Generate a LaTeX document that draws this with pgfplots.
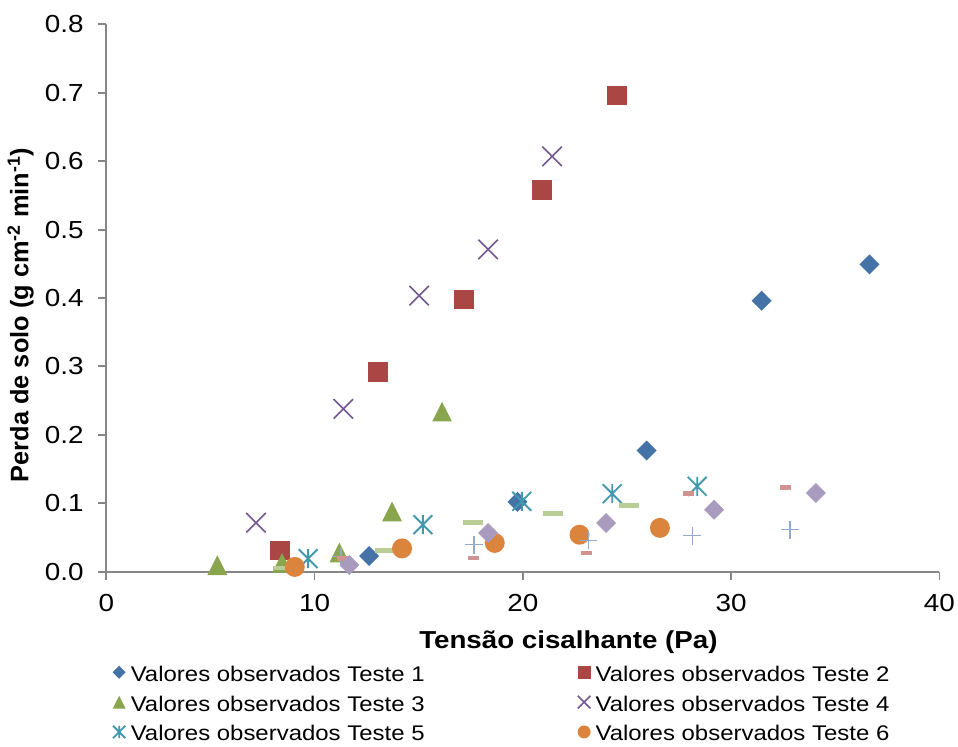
\documentclass[border=0pt]{standalone}
\usepackage{fontspec}
\setmainfont{Liberation Sans}[FakeStretch=1.13]
\newfontfamily\plainfont{Liberation Sans}
\usepackage{pgfplots}
\pgfplotsset{compat=1.18}
\usetikzlibrary{plotmarks}

\definecolor{c1}{HTML}{4572A7}
\definecolor{c2}{HTML}{AA4643}
\definecolor{c3}{HTML}{89A54E}
\definecolor{c4}{HTML}{71588F}
\definecolor{c5}{HTML}{4198AF}
\definecolor{c6}{HTML}{DB843D}
\definecolor{c7}{HTML}{93A9CF}
\definecolor{c8}{HTML}{D19392}
\definecolor{c9}{HTML}{B9CD96}
\definecolor{c10}{HTML}{A99BBD}
\definecolor{axgray}{HTML}{868686}

\pgfdeclareplotmark{xdiamond}{%
  \pgfpathmoveto{\pgfqpoint{0pt}{\pgfplotmarksize}}%
  \pgfpathlineto{\pgfqpoint{\pgfplotmarksize}{0pt}}%
  \pgfpathlineto{\pgfqpoint{0pt}{-\pgfplotmarksize}}%
  \pgfpathlineto{\pgfqpoint{-\pgfplotmarksize}{0pt}}%
  \pgfpathclose\pgfusepathqfill}
\pgfdeclareplotmark{xsquare}{%
  \pgfpathrectangle{\pgfqpoint{-\pgfplotmarksize}{-\pgfplotmarksize}}{\pgfqpoint{2\pgfplotmarksize}{2\pgfplotmarksize}}%
  \pgfusepathqfill}
\pgfdeclareplotmark{xtri}{%
  \pgfpathmoveto{\pgfqpoint{0pt}{\pgfplotmarksize}}%
  \pgfpathlineto{\pgfqpoint{\pgfplotmarksize}{-\pgfplotmarksize}}%
  \pgfpathlineto{\pgfqpoint{-\pgfplotmarksize}{-\pgfplotmarksize}}%
  \pgfpathclose\pgfusepathqfill}
\pgfdeclareplotmark{xcross}{%
  \pgfpathmoveto{\pgfqpoint{-\pgfplotmarksize}{-\pgfplotmarksize}}%
  \pgfpathlineto{\pgfqpoint{\pgfplotmarksize}{\pgfplotmarksize}}%
  \pgfpathmoveto{\pgfqpoint{-\pgfplotmarksize}{\pgfplotmarksize}}%
  \pgfpathlineto{\pgfqpoint{\pgfplotmarksize}{-\pgfplotmarksize}}%
  \pgfusepathqstroke}
\pgfdeclareplotmark{xstar}{%
  \pgfpathmoveto{\pgfqpoint{-\pgfplotmarksize}{-\pgfplotmarksize}}%
  \pgfpathlineto{\pgfqpoint{\pgfplotmarksize}{\pgfplotmarksize}}%
  \pgfpathmoveto{\pgfqpoint{-\pgfplotmarksize}{\pgfplotmarksize}}%
  \pgfpathlineto{\pgfqpoint{\pgfplotmarksize}{-\pgfplotmarksize}}%
  \pgfpathmoveto{\pgfqpoint{0pt}{-\pgfplotmarksize}}%
  \pgfpathlineto{\pgfqpoint{0pt}{\pgfplotmarksize}}%
  \pgfusepathqstroke}
\pgfdeclareplotmark{xplus}{%
  \pgfpathmoveto{\pgfqpoint{-\pgfplotmarksize}{0pt}}%
  \pgfpathlineto{\pgfqpoint{\pgfplotmarksize}{0pt}}%
  \pgfpathmoveto{\pgfqpoint{0pt}{-\pgfplotmarksize}}%
  \pgfpathlineto{\pgfqpoint{0pt}{\pgfplotmarksize}}%
  \pgfusepathqstroke}
\pgfdeclareplotmark{xcirc}{%
  \pgfpathcircle{\pgfpointorigin}{\pgfplotmarksize}%
  \pgfusepathqfill}
\pgfdeclareplotmark{xdash}{%
  \pgfpathrectangle{\pgfqpoint{-\pgfplotmarksize}{-1.85pt}}{\pgfqpoint{2\pgfplotmarksize}{3.7pt}}%
  \pgfusepathqfill}

\pgfplotsset{
  s1/.style={only marks, mark=xdiamond, mark size=7.5pt, color=c1},
  s2/.style={only marks, mark=xsquare, mark size=7.4pt, color=c2},
  s3/.style={only marks, mark=xtri, mark size=7.4pt, color=c3},
  s4/.style={only marks, mark=xcross, mark size=7.3pt, color=c4, line width=1.2pt},
  s5/.style={only marks, mark=xstar, mark size=7.1pt, color=c5, line width=1.4pt},
  s6/.style={only marks, mark=xcirc, mark size=7.5pt, color=c6},
  s7/.style={only marks, mark=xplus, mark size=6.75pt, color=c7, line width=1.2pt},
  s8/.style={only marks, mark=xdash, mark size=4.2pt, color=c8},
  s9/.style={only marks, mark=xdash, mark size=7.5pt, color=c9},
  s10/.style={only marks, mark=xdiamond, mark size=7.5pt, color=c10},
}

\begin{document}
\begin{tikzpicture}
\path[use as bounding box] (0pt,0pt) rectangle (718.5pt,560.25pt);
\begin{axis}[
  at={(79.7pt,131.5pt)}, anchor=south west,
  scale only axis, width=624.9pt, height=410.5pt,
  xmin=0, xmax=40, ymin=0, ymax=0.8,
  xtick={0,10,20,30,40},
  xticklabels={0,10,20,30,40},
  ytick={0,0.1,0.2,0.3,0.4,0.5,0.6,0.7,0.8},
  yticklabels={0.0,0.1,0.2,0.3,0.4,0.5,0.6,0.7,0.8},
  axis x line*=bottom, axis y line*=left,
  axis line style={draw=axgray, line width=1.4pt},
  tick style={draw=axgray, line width=1.4pt},
  tick align=outside, major tick length=6pt,
  clip=false,
  tick label style={font=\fontsize{18.5}{20}\selectfont, text=black},
  xticklabel style={yshift=-7.5pt},
  yticklabel style={xshift=-7.5pt},
  xlabel={\textbf{Tensão cisalhante (Pa)}},
  ylabel={\plainfont\bfseries Perda de solo (g cm\textsuperscript{-2} min\textsuperscript{-1})},
  xlabel style={font=\fontsize{18.4}{22}\selectfont, at={(axis description cs:0.5547,-0.14)}, anchor=base},
  ylabel style={font=\fontsize{19}{22}\selectfont, at={(axis description cs:-0.0936,0.469)}, anchor=base},
  legend columns=2,
  legend image code/.code={\path (-5pt,0pt) (5pt,0pt); \draw[#1] plot coordinates {(0pt,0pt)};},
  legend image post style={/tikz/every mark/.append style={scale=0.65}},
  legend style={
    at={(axis description cs:0.0064,-0.1673)}, anchor=north west,
    draw=none, fill=none, inner sep=0pt, outer sep=0pt,
    font=\fontsize{15.9}{18}\selectfont,
    nodes={inner xsep=1.5pt, inner ysep=0pt, text height=13.5pt, text depth=0pt},
    row sep=8.9pt,
    /tikz/every odd column/.append style={column sep=1.5pt},
    /tikz/every even column/.append style={column sep=112.5pt},
  },
]
\addplot[s1] coordinates {(12.62,0.023) (19.74,0.102) (25.94,0.177) (31.46,0.396) (36.64,0.449)};
\addlegendentry{Valores observados Teste 1}
\addplot[s2] coordinates {(8.34,0.031) (13.05,0.292) (17.18,0.398) (20.92,0.558) (24.53,0.696)};
\addlegendentry{Valores observados Teste 2}
\addplot[s3] coordinates {(5.33,0.0095) (8.44,0.013) (11.19,0.028) (13.72,0.088) (16.12,0.234)};
\addlegendentry{Valores observados Teste 3}
\addplot[s4] coordinates {(7.19,0.0716) (11.38,0.238) (15.02,0.4035) (18.33,0.471) (21.40,0.607)};
\addlegendentry{Valores observados Teste 4}
\addplot[s5] coordinates {(9.69,0.019) (15.20,0.0687) (19.95,0.1028) (24.29,0.114) (28.37,0.1247)};
\addlegendentry{Valores observados Teste 5}
\addplot[s9, forget plot] coordinates {(8.50,0.0054) (13.39,0.031) (17.59,0.0712) (21.46,0.0848) (25.10,0.0965)};
\addplot[s6] coordinates {(9.05,0.0069) (14.20,0.034) (18.65,0.042) (22.72,0.054) (26.58,0.064)};
\addlegendentry{Valores observados Teste 6}
\addplot[s7, forget plot] coordinates {(11.26,0.022) (17.66,0.0395) (23.15,0.0458) (28.14,0.0526) (32.83,0.0614)};
\addplot[s8, forget plot] coordinates {(11.35,0.0194) (17.64,0.020) (23.04,0.0273) (27.97,0.114) (32.59,0.1224)};
\addplot[s10, forget plot] coordinates {(11.67,0.0098) (18.33,0.0566) (24.00,0.0712) (29.18,0.0906) (34.07,0.115)};
\end{axis}
\end{tikzpicture}
\end{document}
